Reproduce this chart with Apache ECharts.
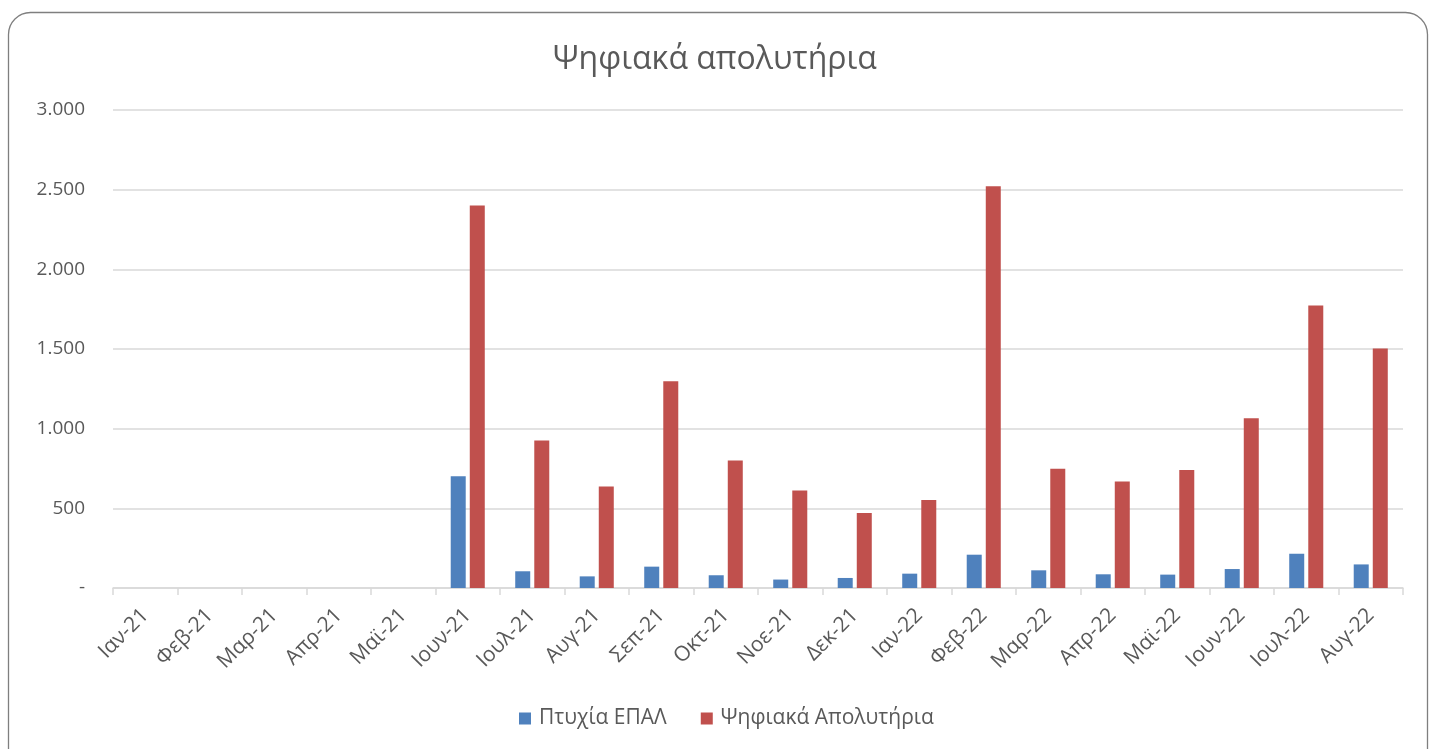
<!DOCTYPE html>
<html>
<head>
<meta charset="utf-8">
<script src="https://cdn.jsdelivr.net/npm/echarts@6/dist/echarts.min.js"></script>
<style>
  html, body { margin: 0; padding: 0; background: #fff; }
  #chart { width: 1430px; height: 749px; }
</style>
</head>
<body>
<div id="chart"></div>
<script>
// months shown on the x axis
const months = ['Ιαν-21', 'Φεβ-21', 'Μαρ-21', 'Απρ-21', 'Μαϊ-21', 'Ιουν-21', 'Ιουλ-21', 'Αυγ-21', 'Σεπ-21', 'Οκτ-21',
  'Νοε-21', 'Δεκ-21', 'Ιαν-22', 'Φεβ-22', 'Μαρ-22', 'Απρ-22', 'Μαϊ-22', 'Ιουν-22', 'Ιουλ-22', 'Αυγ-22'];

// values
const ptyxiaEpal = [0, 0, 0, 0, 0, 702, 105, 73, 134, 80, 53, 63, 90, 209, 111, 86, 84, 119, 215, 148];
const psifiakaApolytiria = [0, 0, 0, 0, 0, 2400, 926, 637, 1298, 800, 612, 471, 553, 2521, 748, 668, 741, 1065, 1773, 1503];

const yTicks = { min: 0, max: 3000, interval: 500 };

const textColor = '#595959';
const fontFamily = '"Open Sans", "Noto Sans", sans-serif';

// 1.500 style labels, dash for zero
const fmt = (v) => v === 0 ? '-' : v.toString().replace(/\B(?=(\d{3})+(?!\d))/g, '.');

const chart = echarts.init(document.getElementById('chart'));

const option = {
  animation: false,
  textStyle: { fontFamily: fontFamily },
  graphic: [{
    type: 'rect',
    shape: { x: 8.5, y: 12.5, width: 1419, height: 780, r: 22 },
    style: { fill: 'none', stroke: '#7f7f7f', lineWidth: 1.3 },
    silent: true
  }],
  title: {
    text: 'Ψηφιακά απολυτήρια',
    left: 'center',
    top: 39,
    textStyle: { fontSize: 32, fontWeight: 'normal', color: textColor, fontFamily: fontFamily }
  },
  legend: {
    bottom: 15,
    left: 514,
    itemWidth: 12,
    itemHeight: 12,
    itemGap: 34,
    icon: 'rect',
    textStyle: { fontSize: 21, color: textColor, fontFamily: fontFamily, padding: [0, 0, 0, 3] },
    data: ['Πτυχία ΕΠΑΛ', 'Ψηφιακά Απολυτήρια']
  },
  grid: { left: 113, right: 27, top: 110, bottom: 161 },
  xAxis: {
    type: 'category',
    data: months,
    axisLine: { lineStyle: { color: '#d9d9d9', width: 1.5 } },
    axisTick: { show: true, length: 7, lineStyle: { color: '#d9d9d9', width: 1.5 } },
    axisLabel: { rotate: 45, interval: 0, fontSize: 21, color: textColor, margin: 24, fontFamily: fontFamily }
  },
  yAxis: {
    type: 'value',
    min: yTicks.min,
    max: yTicks.max,
    interval: yTicks.interval,
    axisLine: { show: false },
    axisTick: { show: false },
    splitLine: { lineStyle: { color: '#d9d9d9', width: 1.5 } },
    axisLabel: { formatter: fmt, fontSize: 19, color: textColor, margin: 28, fontFamily: fontFamily }
  },
  series: [
    {
      name: 'Πτυχία ΕΠΑΛ',
      type: 'bar',
      data: ptyxiaEpal,
      barWidth: 15,
      barGap: '27%',
      itemStyle: { color: '#4f81bd' }
    },
    {
      name: 'Ψηφιακά Απολυτήρια',
      type: 'bar',
      data: psifiakaApolytiria,
      barWidth: 15,
      barGap: '27%',
      itemStyle: { color: '#c0504d' }
    }
  ]
};

chart.setOption(option);
</script>
</body>
</html>
